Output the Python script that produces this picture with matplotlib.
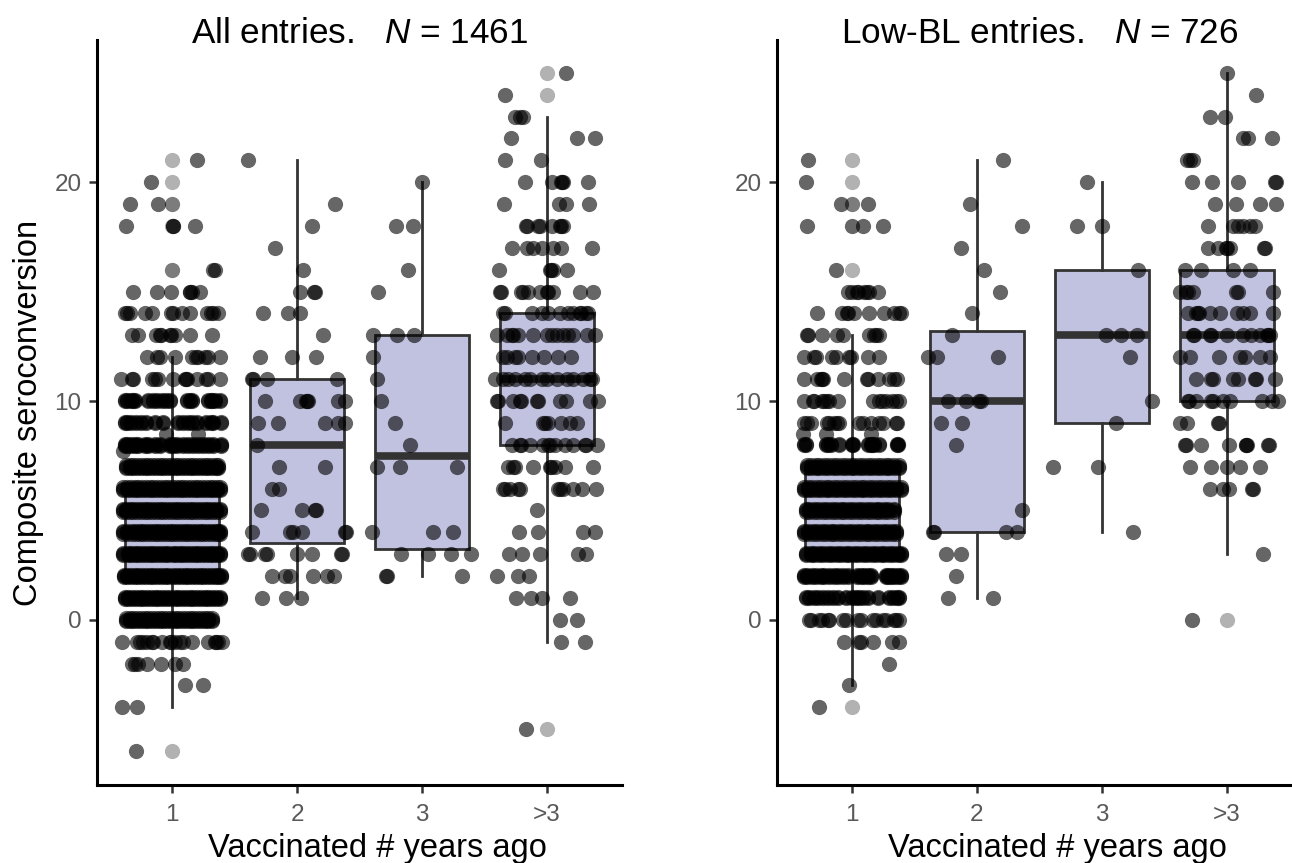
import matplotlib
matplotlib.use('Agg')
import matplotlib.pyplot as plt

plt.rcParams['font.family'] = ['Liberation Sans', 'DejaVu Sans']
plt.rcParams['mathtext.fontset'] = 'custom'
plt.rcParams['mathtext.it'] = 'Liberation Sans:italic'
plt.rcParams['mathtext.rm'] = 'Liberation Sans'

categories = ['1', '2', '3', '>3']
y_ticks = [0, 10, 20]

# box stats, one value per category
left_q1 = [2, 3.5, 3.25, 8]
left_med = [4, 8, 7.5, 11]
left_q3 = [6, 11, 13, 14]
left_low = [-4, 1, 2, -1]
left_high = [12, 21, 20, 23]
right_q1 = [3, 4, 9, 10]
right_med = [5, 10, 13, 13]
right_q3 = [7, 13.2, 16, 16]
right_low = [-3, 1, 4, 3]
right_high = [13, 21, 20, 25]

# outliers at the box centre (light grey points)
left_outliers = [[21, 20, 19, 19, 18, 16, 16, -6], [], [], [25, 24, -5]]
right_outliers = [[21, 20, 19, 19, 16, -4], [], [], [0]]

# jittered points: y value -> x offsets from the category centre
left_g1 = {
    21: [.20], 20: [-.17], 19: [-.34, -.11], 18: [-.37, .01, .01, .18],
    16: [.33, .34],
    15: [-.31, -.12, -.01, .14, .14, .16, .22],
    14: [-.38, -.36, -.34, -.22, -.16, -.01, .01, .08, .14, .28, .31, .33, .37],
    13: [-.32, -.27, -.13, -.10, -.09, -.02, -.01, .02, .14, .32],
    12: [-.20, -.12, -.10, .02, .16, .19, .21, .26, .29, .38],
    11: [-.41, -.32, -.31, -.16, -.14, -.11, .01, .10, .11, .12, .20, .27, .29, .38],
    10: [-.38, -.36, -.33, -.31, -.30, -.19, -.15, -.12, -.08, -.05, -.02, .12, .14, .16, .29, .31, .32, .34, .38],
    9: [-.38, -.36, -.33, -.29, -.25, -.21, -.14, -.07, .05, .09, .13, .16, .20, .27, .31, .33, .39],
    8.5: [-.05, .21],
    8: [-.38, -.36, -.33, -.30, -.27, -.22, -.19, -.14, -.10, -.02, .01, .04, .09, .13, .17, .21, .25, .29, .33, .39],
    7.7: [-.39],
    7: [-.37, -.34, -.31, -.28, -.25, -.22, -.19, -.16, -.13, -.10, -.07, -.04, -.01, .02, .05, .08, .11, .14, .17, .20, .23, .26, .29, .32, .35, .37],
    6: [-.39, -.36, -.33, -.30, -.27, -.24, -.21, -.18, -.15, -.12, -.09, -.06, -.03, 0, .03, .06, .09, .12, .15, .18, .21, .24, .27, .30, .33, .36, .385],
    5: [-.39, -.37, -.34, -.31, -.28, -.25, -.22, -.19, -.16, -.13, -.10, -.07, -.04, -.01, .02, .05, .08, .11, .14, .17, .20, .23, .26, .29, .32, .35, .385],
    4: [-.39, -.36, -.32, -.29, -.26, -.23, -.20, -.17, -.14, -.11, -.08, -.05, -.02, .01, .04, .07, .10, .13, .16, .19, .22, .25, .28, .31, .34, .37, .385],
    3: [-.39, -.35, -.33, -.30, -.27, -.24, -.21, -.18, -.15, -.12, -.09, -.06, -.03, .01, .03, .06, .09, .12, .15, .18, .21, .24, .27, .30, .33, .36, .385],
    2: [-.385, -.36, -.33, -.30, -.27, -.24, -.21, -.18, -.15, -.12, -.09, -.06, -.03, .01, .04, .07, .10, .13, .16, .19, .22, .25, .28, .31, .34, .37, .39],
    1: [-.38, -.35, -.32, -.29, -.26, -.23, -.20, -.17, -.14, -.11, -.08, -.05, -.02, .02, .05, .08, .11, .14, .17, .20, .23, .26, .29, .32, .35, .385],
    0: [-.37, -.34, -.31, -.28, -.25, -.22, -.19, -.16, -.13, -.10, -.07, -.04, -.01, .02, .05, .08, .11, .14, .17, .20, .23, .26, .29, .32],
    -1: [-.40, -.28, -.26, -.23, -.20, -.16, -.15, -.08, -.02, -.01, .02, .06, .09, .16, .29, .34, .35, .37, .40],
    -2: [-.32, -.30, -.27, -.20, -.09, .02, .085],
    -3: [.10, .245], -4: [-.40, -.28], -6: [-.29],
}
# vertical spread of the piled up points in the crowded rows of the first category
left_g1_stack = {10: [0, .05], 9: [0, .05], 8: [-.05, 0, .05], 7: [-.06, 0, .06],
                 6: [-.06, 0, .06], 5: [-.06, 0, .06], 4: [-.06, 0, .06],
                 3: [-.06, 0, .06], 2: [-.06, 0, .06], 1: [-.06, 0, .06], 0: [-.06, 0, .06]}
left_g2 = {
    21: [-.39], 19: [.30], 18: [.12], 17: [-.18], 16: [.05], 15: [.02, .135, .14],
    14: [-.27, -.07, .02], 13: [.205], 12: [-.30, -.04, .15],
    11: [-.36, -.35, -.24, .32], 10: [-.26, .02, .07, .08, .09, .33, .385],
    9: [-.31, -.155, .22, .33, .38], 8: [-.32], 7: [-.145, .22], 6: [-.20, -.145],
    5: [-.29, .04, .14, .15], 4: [-.36, -.055, -.03, .04, .38, .39],
    3: [-.39, -.38, -.26, -.24, 0, .12, .35, .36],
    2: [-.20, -.10, -.055, .13, .24, .295], 1: [-.28, -.09, .03],
}
left_g3 = {
    20: [0], 18: [-.21, -.07], 16: [-.11], 15: [-.35], 13: [-.39, -.20, -.065],
    12: [-.39], 11: [-.36], 10: [-.33], 9: [-.22], 8: [-.095],
    7: [-.36, -.175, .28], 4: [-.40, .085, .25], 3: [-.17, .05, .23, .39],
    2: [-.29, -.28, .32],
}
left_g4 = {
    25: [.15], 24: [-.34], 23: [-.26, -.19, -.22], 22: [-.29, .24, .385], 21: [-.335, -.05],
    20: [-.175, .04, .11, .12, .13, .33], 19: [-.345, .095, .155, .335],
    18: [-.17, -.16, -.07, -.06, .04, .10, .11, .13],
    17: [-.28, -.16, -.11, -.04, .05, .115, .36],
    16: [-.385, .02, .03, .045, .16],
    15: [-.38, -.37, -.21, -.19, -.15, -.055, 0, .01, .05, .265, .37],
    14: [-.35, -.34, -.12, -.04, .01, .105, .17, .21, .26, .27, .31, .33],
    13: [-.40, -.32, -.28, -.27, -.23, -.115, 0, .04, .08, .13, .17, .21, .32, .385],
    12: [-.35, -.32, -.255, -.23, -.12, -.025, .09, .195],
    11: [-.415, -.35, -.31, -.26, -.18, -.14, -.04, 0, .08, .16, .21, .29, .34, .36],
    10: [-.40, -.39, -.27, -.22, -.21, -.08, -.07, .105, .155, .345, .41],
    9: [-.34, -.03, -.02, .01, .115, .185, .24],
    8: [-.28, -.22, -.21, -.135, -.03, .01, .02, .065, .145, .21, .30, .31, .40],
    7: [-.31, -.27, -.26, -.115, .02, .03, .065, .14, .37],
    6: [-.35, -.34, -.295, -.23, -.22, .09, .10, .13, .21, .28, .39],
    5: [-.08], 4: [-.225, -.07, .29, .38], 3: [-.305, -.20, -.055, .25, .31],
    2: [-.40, -.235, -.145], 1: [-.245, -.13, -.04, .18], 0: [.10, .24],
    -1: [.11, .305], -5: [-.165],
}
right_g1 = {
    21: [-.35], 20: [-.37], 19: [-.09, .125], 18: [-.36, 0, .085, .25], 16: [-.13],
    15: [-.03, 0, .04, .05, .10, .12, .14, .21],
    14: [-.28, -.08, -.04, -.03, .02, .14, .255, .34, .38, .39],
    13: [-.36, -.35, -.24, -.12, -.07, .14, .18, .19, .22],
    12: [-.38, -.30, -.29, -.16, -.13, -.02, -.01, .13, .22],
    11: [-.38, -.28, -.25, -.24, -.23, -.06, .12, .13, .21, .30, .34, .36],
    10: [-.38, -.31, -.30, -.24, -.22, -.20, -.18, -.11, .17, .22, .24, .27, .32, .35, .38],
    9: [-.38, -.36, -.33, -.20, -.18, -.14, -.12, -.10, .06, .09, .15, .22, .25, .35, .36],
    8.5: [-.39, -.21, .15],
    8: [-.38, -.37, -.21, -.19, -.17, -.10, 0, .01, .13, .15, .16, .18, .22, .36, .37],
    7: [-.36, -.33, -.29, -.26, -.22, -.19, -.15, -.12, -.08, -.05, -.01, .02, .06, .09, .13, .16, .20, .23, .27, .30, .34, .38],
    6: [-.385, -.35, -.32, -.28, -.25, -.21, -.18, -.14, -.11, -.07, -.04, 0, .03, .07, .10, .14, .17, .21, .24, .28, .31, .35, .39],
    5: [-.37, -.34, -.30, -.27, -.23, -.20, -.16, -.13, -.09, -.06, -.02, .01, .05, .08, .12, .15, .19, .22, .26, .29, .34],
    4: [-.385, -.35, -.31, -.28, -.24, -.21, -.17, -.14, -.10, -.07, -.03, 0, .04, .07, .11, .14, .18, .21, .25, .28, .32, .35],
    3: [-.37, -.33, -.30, -.26, -.23, -.19, -.16, -.12, -.09, -.05, -.02, .02, .05, .09, .12, .16, .19, .23, .26, .30, .33, .37, .39],
    2: [-.385, -.36, -.32, -.29, -.25, -.22, -.18, -.14, -.11, -.07, -.03, .04, .07, .10, .13, .15, .27, .29, .31, .34, .37, .39],
    1: [-.37, -.34, -.30, -.27, -.23, -.19, -.15, -.11, -.05, 0, .03, .06, .09, .13, .21, .30, .33, .36, .38],
    0: [-.34, -.33, -.26, -.24, -.19, -.18, -.07, -.05, .05, .07, .17, .19, .25, .27, .34, .35, .38],
    -1: [-.06, .06, .07, .17, .32, .38],
    -2: [.30], -3: [-.02], -4: [-.26],
}
right_g1_stack = {8: [0, .05], 7: [-.06, 0, .06], 6: [-.06, 0, .06], 5: [-.06, 0, .06],
                  4: [-.06, 0, .06], 3: [-.06, 0, .06], 2: [-.06, 0, .06], 1: [0, .05]}
right_g2 = {
    21: [.21], 19: [-.055], 18: [.36], 17: [-.13], 16: [.06], 15: [.185], 14: [-.04],
    13: [-.20], 12: [-.39, -.32, .165], 10: [-.23, -.09, .02, .03], 9: [-.285, -.12],
    8: [-.165], 5: [.36], 4: [-.355, -.345, .23, .32], 3: [-.245, -.13], 2: [-.17],
    1: [-.235, .125],
}
right_g3 = {
    20: [-.12], 18: [-.20, 0], 16: [.29], 13: [.03, .15, .28], 12: [.22], 10: [.40],
    9: [.11], 7: [-.39, -.035], 4: [.25],
}
right_g4 = {
    25: [0], 24: [.23], 23: [-.135, -.02], 22: [.13, .17, .36], 21: [-.32, -.30, -.27],
    20: [-.28, -.12, .09, .38, .39], 19: [-.095, .07, .265, .39],
    18: [-.155, .05, .09, .13, .18, .22], 17: [-.15, -.07, -.01, 0, .025, .295, .30],
    16: [-.335, -.21, .05, .185], 15: [-.375, -.325, -.315, -.27, .075, .085, .37],
    14: [-.31, -.25, -.235, -.225, -.135, -.055, .08, .13, .18, .365],
    13: [-.275, -.265, -.14, -.13, 0, .13, .195, .265, .32, .33, .34],
    12: [-.375, -.295, -.065, .105, .145, .265, .345],
    11: [-.245, -.125, -.115, .05, .09, .22, .23, .385],
    10: [-.315, -.305, -.245, -.125, -.115, -.03, .025, .28, .36, .41],
    9: [-.375, -.32, -.075, -.065], 8: [-.335, -.33, -.21, .015, .15, .155, .16, .325, .335],
    7: [-.30, -.13, 0, .10, .265], 6: [-.14, -.035, .015, .20, .21], 3: [.29], 0: [-.28],
}
left_groups = [left_g1, left_g2, left_g3, left_g4]
right_groups = [right_g1, right_g2, right_g3, right_g4]


def draw_panel(ax, groups, stack, q1, med, q3, low, high, outliers, title):
    stats = []
    for i in range(4):
        stats.append({'q1': q1[i], 'med': med[i], 'q3': q3[i],
                      'whislo': low[i], 'whishi': high[i], 'fliers': []})
    ax.bxp(stats, positions=[1, 2, 3, 4], widths=0.75, patch_artist=True,
           showcaps=False, showfliers=False, manage_ticks=False, zorder=1,
           boxprops=dict(facecolor='#c1c2e0', edgecolor='#333333', linewidth=2.0),
           whiskerprops=dict(color='#333333', linewidth=2.0),
           medianprops=dict(color='#333333', linewidth=5.5, solid_capstyle='butt'))

    for i in range(4):
        ax.scatter([i + 1] * len(outliers[i]), outliers[i], s=120, color='black',
                   alpha=0.3, linewidths=0, zorder=2)
        xs = []
        ys = []
        for y_val, offsets in groups[i].items():
            spread = stack.get(y_val, [0]) if i == 0 else [0]
            for dy in spread:
                for off in offsets:
                    xs.append(i + 1 + off)
                    ys.append(y_val + dy)
        ax.scatter(xs, ys, s=120, color='black', alpha=0.6, linewidths=0, zorder=3)

    ax.set_xlim(0.4, 4.6)
    ax.set_ylim(-7.55, 26.5)
    ax.set_xticks([1, 2, 3, 4])
    ax.set_xticklabels(categories)
    ax.set_yticks(y_ticks)
    ax.tick_params(axis='y', length=6, width=1.8, color='#333333', pad=5,
                   labelcolor='#595959', labelsize=17.5)
    ax.tick_params(axis='x', length=6, width=1.8, color='#333333', pad=8,
                   labelcolor='#595959', labelsize=17.5)
    ax.spines['top'].set_visible(False)
    ax.spines['right'].set_visible(False)
    ax.spines['left'].set_linewidth(2.2)
    ax.spines['bottom'].set_linewidth(2.2)
    ax.set_xlabel('Vaccinated # years ago', fontsize=23.5, va='baseline')
    ax.xaxis.set_label_coords(0.534, -72 / 745)
    ax.set_title(title, fontsize=25.3, y=1.0, pad=-2)


W, H = 1292, 863
fig = plt.figure(figsize=(W / 100, H / 100), dpi=100)

ax1 = fig.add_axes([97 / W, (H - 785) / H, 525 / W, 745 / H])
draw_panel(ax1, left_groups, left_g1_stack, left_q1, left_med, left_q3, left_low,
           left_high, left_outliers, r'All entries.   $\mathit{N}$ = 1461')
ax1.set_ylabel('Composite seroconversion', fontsize=23.5, va='baseline')
ax1.yaxis.set_label_coords(-60 / 525, 0.5)

ax2 = fig.add_axes([777 / W, (H - 785) / H, 525 / W, 745 / H])
draw_panel(ax2, right_groups, right_g1_stack, right_q1, right_med, right_q3, right_low,
           right_high, right_outliers, r'Low-BL entries.   $\mathit{N}$ = 726')

fig.savefig('out.png', dpi=100)
